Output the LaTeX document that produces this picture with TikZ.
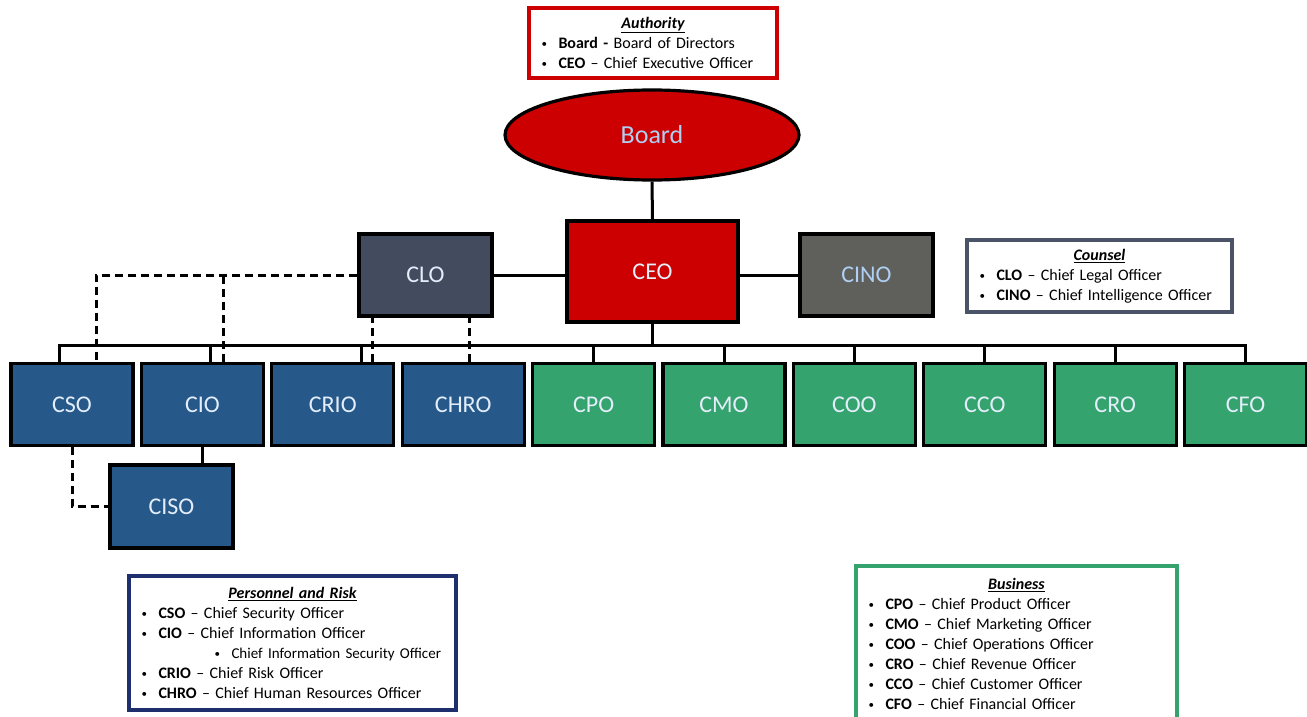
\documentclass[tikz,border=0pt]{standalone}
\usepackage{fontspec}
\setmainfont{Carlito}
\usetikzlibrary{arrows.meta,positioning,shapes,calc}
\definecolor{orgRed}{RGB}{204, 0, 0}
\definecolor{orgBlue}{RGB}{38, 88, 138}
\definecolor{orgGreen}{RGB}{52, 163, 110}
\definecolor{orgSlate}{RGB}{67, 75, 95}
\definecolor{orgGrey}{RGB}{95, 95, 92}
\definecolor{orgNavy}{RGB}{30, 47, 110}
\definecolor{orgFrame}{RGB}{75, 83, 102}
\definecolor{orgLabel}{RGB}{228, 238, 250}
\definecolor{orgSky}{RGB}{175, 208, 242}
\newcommand{\legtitle}[1]{{\centering\textbf{\textit{\underline{#1}}}\par}}
\newcommand{\legdot}{\makebox[17pt][l]{\raisebox{0.1ex}{\fontsize{11}{11}\selectfont\textbullet}}}
\newcommand{\legitem}[2]{\legdot\textbf{#1} -- #2\par}
\tikzset{
  unit/.style={draw=black, line width=3.2pt, minimum width=122, minimum height=82,
    text=orgLabel, font=\fontsize{24}{28}\selectfont},
  link/.style={line width=3pt},
  dotline/.style={line width=3pt, dash pattern=on 8pt off 5pt},
  legend/.style={draw=#1, line width=3.2pt, fill=white, align=left, inner xsep=11pt,
    font=\fontsize{16}{20}\selectfont}
}
\begin{document}
\begin{tikzpicture}[x=1pt, y=-1pt]
        \useasboundingbox (0,0) rectangle (1307,717);
        % top of the chart
        \node[legend=orgRed, minimum width=248, minimum height=70, text width=223] (authority) at (653,43)
            {\legtitle{Authority}
             \legdot\textbf{Board -} Board of Directors\par
             \legitem{CEO}{Chief Executive Officer}};
        \node[ellipse, draw=black, line width=3.2pt, fill=orgRed, minimum width=294, minimum height=90,
            text=orgSky, font=\fontsize{26}{30}\selectfont] (board) at (652,135) {Board};
        \node[unit, fill=orgRed, minimum width=171, minimum height=101] (ceo) at (652.5,271.5) {CEO};
        \node[unit, fill=orgSlate, minimum width=133] (clo) at (425.5,275) {CLO};
        \node[unit, fill=orgGrey, minimum width=133, text=orgSky] (cino) at (866.5,275) {CINO};
        \node[legend=orgFrame, minimum width=265, minimum height=72, text width=240] (counsel) at (1099.5,276)
            {\legtitle{Counsel}
             \legitem{CLO}{Chief Legal Officer}
             \legitem{CINO}{Chief Intelligence Officer}};
        % officer row
        \foreach \name/\lbl/\col [count=\i from 0] in {cso/CSO/orgBlue, cio/CIO/orgBlue, crio/CRIO/orgBlue,
            chro/CHRO/orgBlue, cpo/CPO/orgGreen, cmo/CMO/orgGreen, coo/COO/orgGreen, cco/CCO/orgGreen,
            cro/CRO/orgGreen, cfo/CFO/orgGreen}
            \node[unit, fill=\col] (\name) at (72+130.4*\i,404.5) {\lbl};
        \node[unit, fill=orgBlue, minimum width=123, minimum height=83] (ciso) at (171.5,506.5) {CISO};
        % solid lines
        \coordinate (bus) at (0,345);
        \draw[link] (board.south) -- (ceo.north);
        \draw[link] (clo.east) -- (clo.east -| ceo.west);
        \draw[link] (cino.west) -- (cino.west -| ceo.east);
        \draw[link] (ceo.south) -- (ceo.south |- bus);
        \draw[link] ($(cso.north)+(-13,0)$) |- (cfo.north |- bus) -- (cfo.north);
        \foreach \name in {cpo,cmo,coo,cco,cro}
            \draw[link] (\name.north) -- (\name.north |- bus);
        \path ($(cio.north)+(8,0)$) coordinate (cioTap) ($(crio.north)+(29,0)$) coordinate (crioTap);
        \draw[link] (cioTap) -- (cioTap |- bus);
        \draw[link] (crioTap) -- (crioTap |- bus);
        \draw[link] (cio.south) -- (cio.south |- ciso.north);
        % dashed lines to counsel
        \path ($(cio.north)+(21,0)$) coordinate (cioDash) ($(crio.north)+(40,0)$) coordinate (crioDash)
            ($(chro.north)+(6,0)$) coordinate (chroDash);
        \draw[dotline] (clo.west) -| ($(cso.north)+(24,0)$);
        \draw[dotline] (cioDash) -- (cioDash |- clo.west);
        \draw[dotline] (crioDash) -- (crioDash |- clo.south);
        \draw[dotline] (chroDash) -- (chroDash |- clo.south);
        \draw[dotline] (cso.south) |- (ciso.west);
        % legends at the bottom
        \node[legend=orgNavy, minimum width=327, minimum height=134, text width=302] (personnel) at (292.5,643)
            {\legtitle{Personnel and Risk}
             \legitem{CSO}{Chief Security Officer}
             \legitem{CIO}{Chief Information Officer}
             \mbox{\hspace*{73pt}\legdot\fontsize{15}{20}\selectfont Chief Information Security Officer}\par
             \legitem{CRIO}{Chief Risk Officer}
             \legitem{CHRO}{Chief Human Resources Officer}};
        \node[legend=orgGreen, minimum width=321, minimum height=156, text width=296] (business) at (1016.5,644)
            {\legtitle{Business}
             \legitem{CPO}{Chief Product Officer}
             \legitem{CMO}{Chief Marketing Officer}
             \legitem{COO}{Chief Operations Officer}
             \legitem{CRO}{Chief Revenue Officer}
             \legitem{CCO}{Chief Customer Officer}
             \legitem{CFO}{Chief Financial Officer}};
    \end{tikzpicture}
\end{document}
